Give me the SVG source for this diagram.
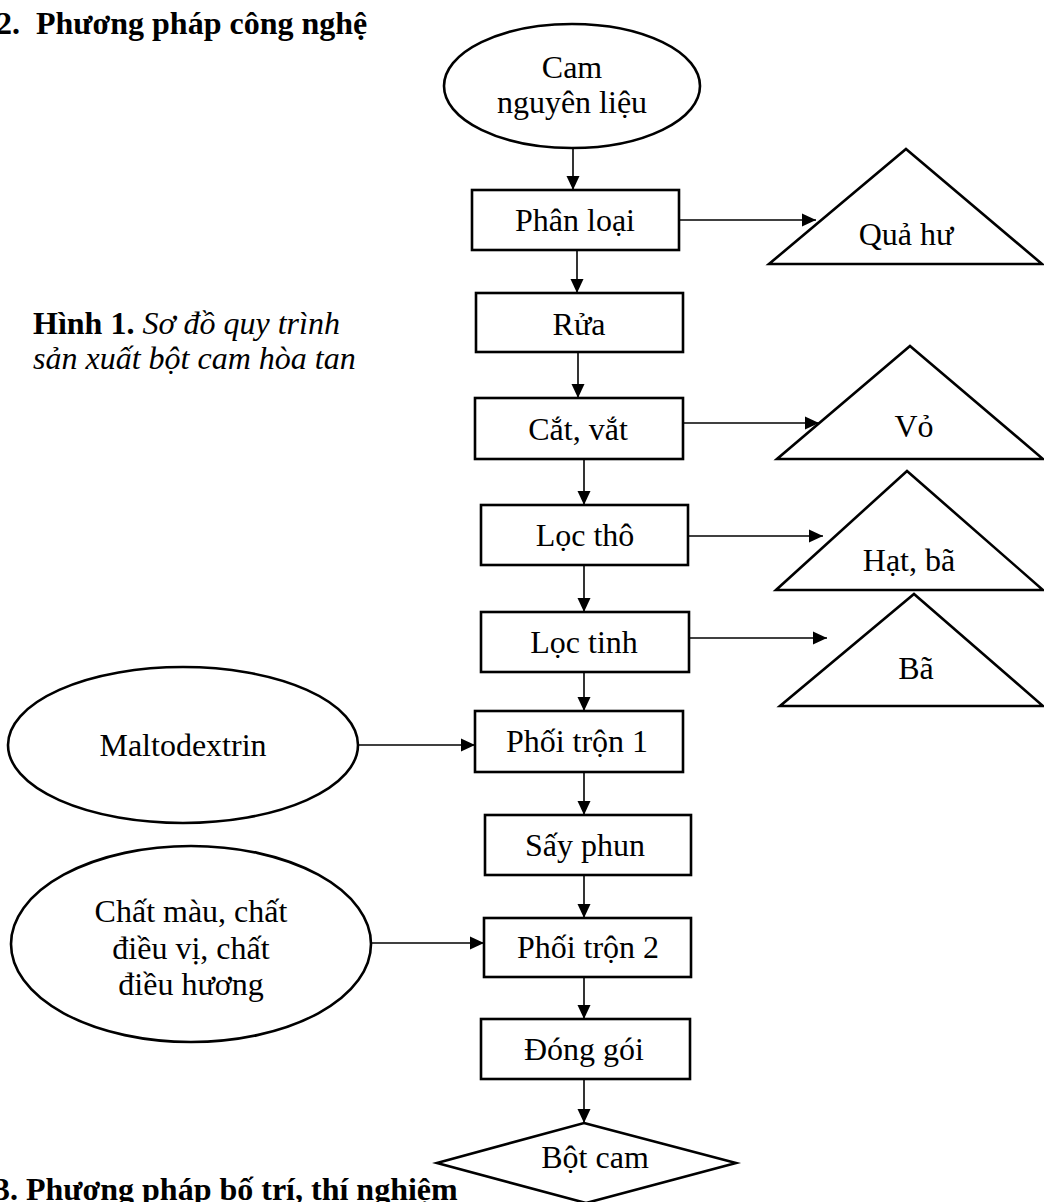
<svg xmlns="http://www.w3.org/2000/svg" width="1044" height="1202" viewBox="0 0 1044 1202">
<defs>
<style>
text{font-family:"Liberation Serif","Times New Roman",serif;font-size:32px;fill:#000}
.c{text-anchor:middle}
.h{font-weight:bold}
.i{font-style:italic}
.n{fill:#fff;stroke:#000;stroke-width:2.6}
.e{stroke:#000;stroke-width:1.6;fill:none}
</style>
<marker id="ah" markerUnits="userSpaceOnUse" markerWidth="14" markerHeight="14" refX="14" refY="7" orient="auto"><path d="M0,0.5 L14,7 L0,13.5 z" fill="#000"/></marker>
</defs>
<rect width="1044" height="1202" fill="#fff"/>
<text id="heading2" class="h" x="-4" y="34" xml:space="preserve">2.  Phương pháp công nghệ</text>
<text id="caption" x="33" y="334"><tspan class="h">Hình 1.</tspan><tspan class="i"> Sơ đồ quy trình</tspan><tspan class="i" x="33" y="369">sản xuất bột cam hòa tan</tspan></text>
<text id="heading3" class="h" x="-6" y="1200">3. Phương pháp bố trí, thí nghiệm</text>
<g id="connectors">
<line class="e" x1="573" y1="148" x2="573" y2="190" marker-end="url(#ah)"/>
<line class="e" x1="577" y1="250" x2="577" y2="293" marker-end="url(#ah)"/>
<line class="e" x1="578" y1="352" x2="578" y2="398" marker-end="url(#ah)"/>
<line class="e" x1="584" y1="459" x2="584" y2="505" marker-end="url(#ah)"/>
<line class="e" x1="584" y1="565" x2="584" y2="612" marker-end="url(#ah)"/>
<line class="e" x1="584" y1="672" x2="584" y2="711" marker-end="url(#ah)"/>
<line class="e" x1="584" y1="772" x2="584" y2="815" marker-end="url(#ah)"/>
<line class="e" x1="584" y1="875" x2="584" y2="918" marker-end="url(#ah)"/>
<line class="e" x1="584" y1="977" x2="584" y2="1019" marker-end="url(#ah)"/>
<line class="e" x1="584" y1="1079" x2="584" y2="1123" marker-end="url(#ah)"/>
<line class="e" x1="679" y1="220" x2="816" y2="220" marker-end="url(#ah)"/>
<line class="e" x1="683" y1="423" x2="819" y2="423" marker-end="url(#ah)"/>
<line class="e" x1="688" y1="536" x2="823" y2="536" marker-end="url(#ah)"/>
<line class="e" x1="689" y1="638" x2="827" y2="638" marker-end="url(#ah)"/>
<line class="e" x1="358" y1="745" x2="475" y2="745" marker-end="url(#ah)"/>
<line class="e" x1="371" y1="943" x2="484" y2="943" marker-end="url(#ah)"/>
</g>
<g id="cam"><ellipse class="n" cx="572" cy="86" rx="128" ry="62"/><text class="c" x="572" y="78">Cam</text><text class="c" x="572" y="113">nguyên liệu</text></g>
<g id="phanloai"><rect class="n" x="472" y="190" width="207" height="60"/><text class="c" x="575" y="231">Phân loại</text></g>
<g id="quahu"><polygon class="n" points="906,149 1042,264 769,264"/><text class="c" x="906" y="245">Quả hư</text></g>
<g id="rua"><rect class="n" x="476" y="293" width="207" height="59"/><text class="c" x="579" y="335">Rửa</text></g>
<g id="catvat"><rect class="n" x="475" y="398" width="208" height="61"/><text class="c" x="578" y="440">Cắt, vắt</text></g>
<g id="vo"><polygon class="n" points="910,346 1043,459 777,459"/><text class="c" x="914" y="437">Vỏ</text></g>
<g id="loctho"><rect class="n" x="481" y="505" width="207" height="60"/><text class="c" x="585" y="546">Lọc thô</text></g>
<g id="hatba"><polygon class="n" points="907,471 1043,590 776,590"/><text class="c" x="909" y="571">Hạt, bã</text></g>
<g id="loctinh"><rect class="n" x="481" y="612" width="208" height="60"/><text class="c" x="584" y="653">Lọc tinh</text></g>
<g id="ba"><polygon class="n" points="914,594 1043,706 780,706"/><text class="c" x="916" y="679">Bã</text></g>
<g id="phoitron1"><rect class="n" x="475" y="711" width="208" height="61"/><text class="c" x="577" y="752">Phối trộn 1</text></g>
<g id="maltodextrin"><ellipse class="n" cx="183" cy="745" rx="175" ry="78"/><text class="c" x="183" y="756">Maltodextrin</text></g>
<g id="sayphun"><rect class="n" x="485" y="815" width="206" height="60"/><text class="c" x="585" y="856">Sấy phun</text></g>
<g id="phoitron2"><rect class="n" x="484" y="918" width="207" height="59"/><text class="c" x="588" y="958">Phối trộn 2</text></g>
<g id="chatmau"><ellipse class="n" cx="191" cy="944" rx="180" ry="98"/><text class="c" x="191" y="922">Chất màu, chất</text><text class="c" x="191" y="959">điều vị, chất</text><text class="c" x="191" y="995">điều hương</text></g>
<g id="donggoi"><rect class="n" x="481" y="1019" width="209" height="60"/><text class="c" x="584" y="1060">Đóng gói</text></g>
<g id="botcam"><polygon class="n" points="584,1123 736,1163 586,1203 437,1163"/><text class="c" x="595" y="1168">Bột cam</text></g>
</svg>
